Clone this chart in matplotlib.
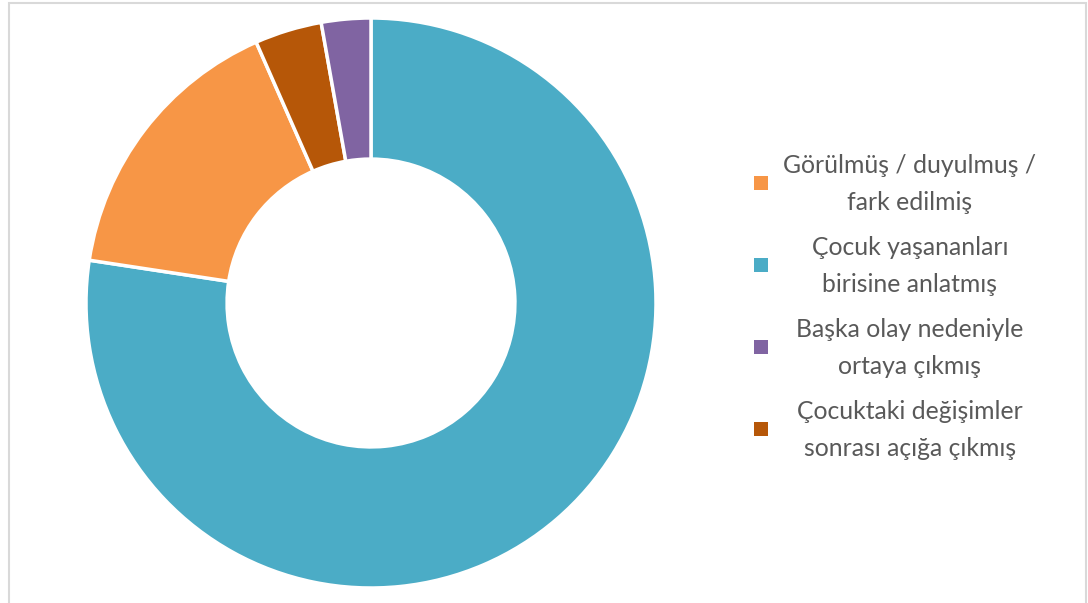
import matplotlib
matplotlib.use("Agg")
import matplotlib.pyplot as plt
from matplotlib.patches import Rectangle

# Data (clockwise from 12 o'clock)
categories = ["Çocuk yaşananları\nbirisine anlatmış",
              "Görülmüş / duyulmuş /\nfark edilmiş",
              "Çocuktaki değişimler\nsonrası açığa çıkmış",
              "Başka olay nedeniyle\nortaya çıkmış"]
values = [77.4, 16.0, 3.8, 2.8]
colors = ["#4BACC6", "#F79646", "#B65708", "#8064A2"]
legend_order = [1, 0, 3, 2]

plt.rcParams['font.family'] = ['Lato', 'DejaVu Sans']

W, H = 1088, 603
fig = plt.figure(figsize=(W / 100, H / 100), dpi=100)
fig.patch.set_facecolor("white")

cx, cy, r = 371, 303, 285
ax = fig.add_axes([(cx - r) / W, (H - cy - r) / H, 2 * r / W, 2 * r / H])
ax.pie(values, colors=colors, startangle=90, counterclock=False, radius=1.0,
       wedgeprops=dict(width=0.495, edgecolor="white", linewidth=2.5))
ax.set_xlim(-1, 1)
ax.set_ylim(-1, 1)
ax.set_aspect("equal")
ax.axis("off")

# legend drawn manually (centered two-line labels)
y0, dy = 183, 82
for k, i in enumerate(legend_order):
    yc = y0 + k * dy
    fig.patches.append(Rectangle((754 / W, 1 - (yc + 7) / H), 14 / W, 14 / H,
                                 transform=fig.transFigure,
                                 facecolor=colors[i], edgecolor="none"))
    fig.text(910 / W, 1 - (yc + 1) / H, categories[i], ha="center", va="center",
             multialignment="center", fontsize=17.8, color="#595959",
             linespacing=1.75)

# chart area border
fig.patches.append(Rectangle((9 / W, -0.05), (1086 - 9) / W, (H - 3) / H + 0.05,
                             transform=fig.transFigure, fill=False,
                             edgecolor="#D9D9D9", linewidth=1.5))

fig.savefig("out.png", dpi=100, facecolor="white")
